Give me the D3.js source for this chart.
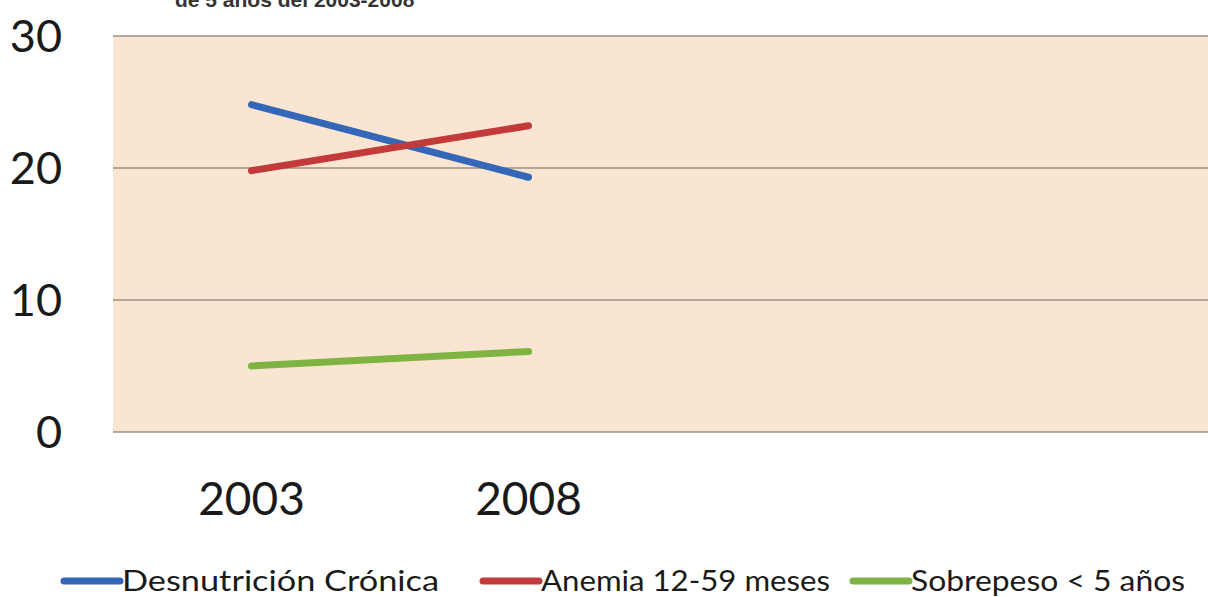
<!DOCTYPE html>
<html><head><meta charset="utf-8">
<script src="https://cdn.jsdelivr.net/npm/d3@7"></script>
<style>body{margin:0;background:#fff}svg{display:block}</style>
</head><body>
<svg id="c" width="1208" height="597"></svg>
<script>
const categories = ["2003", "2008"];
const seriesNames = ["Desnutrición Crónica", "Anemia 12-59 meses", "Sobrepeso < 5 años"];
const desnutricion = [24.8, 19.3];
const anemia = [19.8, 23.2];
const sobrepeso = [5.0, 6.1];
const yTicks = [0, 10, 20, 30];
const colors = ["#3467b8", "#c23b3a", "#7fb442"];
const titleText = "de 5 años del 2003-2008";

(function(){
const series = [desnutricion, anemia, sobrepeso];
const svg = d3.select("#c");
const W = 1208, H = 597;
svg.append("rect").attr("width", W).attr("height", H).attr("fill", "#fff");

const pLeft = 113, pTop = 36, pBottom = 432;
const nSlots = 4;
const x = d3.scaleBand().domain(d3.range(nSlots)).range([pLeft, pLeft + 277 * nSlots]);
const y = d3.scaleLinear().domain([0, 30]).range([pBottom, pTop]);

svg.append("rect").attr("x", pLeft).attr("y", pTop).attr("width", W - pLeft).attr("height", pBottom - pTop).attr("fill", "#fae5d3");

svg.append("g").selectAll("line").data(yTicks).join("line")
  .attr("x1", pLeft).attr("x2", W).attr("y1", d => y(d)).attr("y2", d => y(d))
  .attr("stroke", "#9c9082").attr("stroke-width", 1.5);

svg.append("g").selectAll("text").data(yTicks).join("text")
  .attr("x", 62).attr("y", d => y(d)).attr("dy", "0.36em")
  .attr("text-anchor", "end").attr("font-family", "Lato, 'Open Sans', sans-serif")
  .attr("font-size", 45).attr("fill", "#1a1a1a").text(d => d);

svg.append("g").selectAll("text").data(categories).join("text")
  .attr("x", (d, i) => x(i) + x.bandwidth() / 2).attr("y", 515)
  .attr("text-anchor", "middle").attr("font-family", "Lato, 'Open Sans', sans-serif")
  .attr("font-size", 46).attr("fill", "#1a1a1a").text(d => d);

const line = d3.line().x((d, i) => x(i) + x.bandwidth() / 2).y(d => y(d));
svg.append("g").selectAll("path").data(series).join("path")
  .attr("d", d => line(d)).attr("fill", "none")
  .attr("stroke", (d, i) => colors[i]).attr("stroke-width", 7).attr("stroke-linecap", "round");

svg.append("text").attr("x", 175).attr("y", 7).attr("font-family", "'Liberation Sans', Arial, sans-serif")
  .attr("font-weight", "bold").attr("font-size", 21).attr("fill", "#333").text(titleText);

const legX = [64, 483, 853];
const legW = [375, 347, 332];
const lg = svg.append("g").selectAll("g").data(seriesNames).join("g")
  .attr("transform", (d, i) => `translate(${legX[i]},581)`);
lg.append("line").attr("x1", 0).attr("x2", 56).attr("y1", 0).attr("y2", 0)
  .attr("stroke", (d, i) => colors[i]).attr("stroke-width", 7).attr("stroke-linecap", "round");
lg.append("text").attr("x", 58).attr("y", 0).attr("dy", "0.36em")
  .attr("font-family", "Lato, 'Open Sans', sans-serif").attr("font-size", 29).attr("fill", "#1a1a1a")
  .text(d => d)
  .each(function(d, i){ const target = legW[i] - 58; const len = this.getComputedTextLength(); if (Math.abs(len - target) > 4) d3.select(this).attr("textLength", target).attr("lengthAdjust", "spacingAndGlyphs"); });
})();
</script>
</body></html>
